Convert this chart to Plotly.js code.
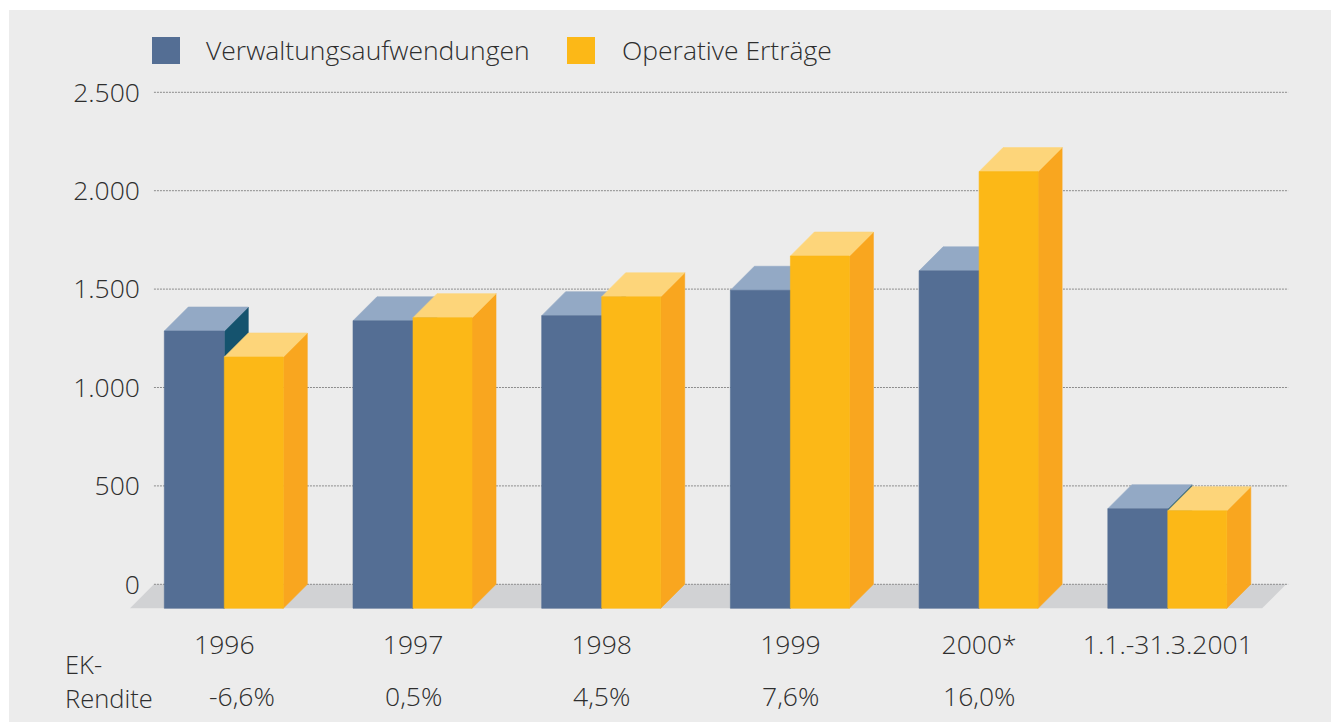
<!DOCTYPE html>
<html>
<head>
<meta charset="utf-8">
<script src="https://cdn.plot.ly/plotly-3.0.1.min.js"></script>
<style>
  html, body { margin: 0; padding: 0; background: #ffffff; }
  #chart { width: 1331px; height: 722px; }
</style>
</head>
<body>
<div id="chart"></div>
<script>
// ---------- data ----------
const categories = ['1996', '1997', '1998', '1999', '2000*', '1.1.-31.3.2001'];
const verwaltungsaufwendungen = [1287, 1339, 1365, 1494, 1593, 384];
const operativeErtraege = [1155, 1355, 1461, 1668, 2097, 374];
const ekRendite = ['-6,6%', '0,5%', '4,5%', '7,6%', '16,0%', ''];
const yTickVals = [0, 500, 1000, 1500, 2000, 2500];
const yTickText = ['0', '500', '1.000', '1.500', '2.000', '2.500'];
const seriesNames = ['Verwaltungsaufwendungen', 'Operative Erträge'];

// ---------- geometry / style ----------
const W = 1331, H = 722;
const CAT_PX = 188.7;          // px per category
const CAT0_PX = 224.3;         // px of first category centre
const PX_PER_UNIT = 0.1968;    // px per value unit
const ZERO_PX = 584.3;         // px of value 0 (back wall)
const DEPTH = 24;              // 3D depth in px
const PLOT_L = 130, PLOT_R = 1292, PLOT_T = 20, PLOT_B = 626;

const dxU = DEPTH / CAT_PX;
const dyV = DEPTH / PX_PER_UNIT;
const wBlue = 60 / CAT_PX, wOrange = 59 / CAT_PX;

const FONT = 'Open Sans, Liberation Sans, Arial, sans-serif';
const FW = 300;
const FS = 26.5;
const TXT = '#2e2e2e';
const colors = {
  blue:   { front: '#546e94', top: '#93a9c5', side: '#15536e' },
  orange: { front: '#fcb817', top: '#fdd57a', side: '#f9a61f' }
};

const xRange = [(PLOT_L - CAT0_PX) / CAT_PX, (PLOT_R - CAT0_PX) / CAT_PX];
const yRange = [(ZERO_PX - PLOT_B) / PX_PER_UNIT, (ZERO_PX - PLOT_T) / PX_PER_UNIT];

function faces(values, leftOff, width) {
  const f = { front: {x: [], y: []}, top: {x: [], y: []}, side: {x: [], y: []} };
  values.forEach((v, i) => {
    const l = i + leftOff, r = l + width, b = -dyV;
    f.front.x.push(l, r, r, l, l, null);
    f.front.y.push(b, b, v, v, b, null);
    f.top.x.push(l, r, r + dxU, l + dxU, l, null);
    f.top.y.push(v, v, v + dyV, v + dyV, v, null);
    f.side.x.push(r, r + dxU, r + dxU, r, r, null);
    f.side.y.push(b, 0, v + dyV, v, b, null);
  });
  return f;
}

function polyTrace(pts, color, name) {
  return {
    type: 'scatter', mode: 'lines', x: pts.x, y: pts.y,
    fill: 'toself', fillcolor: color,
    line: { width: 0.6, color: color },
    hoverinfo: 'skip', showlegend: false, name: name
  };
}

const fb = faces(verwaltungsaufwendungen, -wBlue, wBlue);
const fo = faces(operativeErtraege, 0, wOrange);

const traces = [
  polyTrace(fb.side, colors.blue.side, seriesNames[0]),
  polyTrace(fb.top, colors.blue.top, seriesNames[0]),
  polyTrace(fb.front, colors.blue.front, seriesNames[0]),
  polyTrace(fo.side, colors.orange.side, seriesNames[1]),
  polyTrace(fo.top, colors.orange.top, seriesNames[1]),
  polyTrace(fo.front, colors.orange.front, seriesNames[1])
];

const n = categories.length;
const shapes = [
  // page background
  { type: 'rect', xref: 'paper', yref: 'paper', x0: 9 / W, x1: 1, y0: 0, y1: 1 - 10 / H,
    fillcolor: '#ececec', line: { width: 0 }, layer: 'below' },
  // floor
  { type: 'path', xref: 'x', yref: 'y', layer: 'below',
    path: `M ${-0.5} ${-dyV} L ${n - 0.5} ${-dyV} L ${n - 0.5 + dxU} 0 L ${-0.5 + dxU} 0 Z`,
    fillcolor: '#d1d2d4', line: { width: 0 } }
];
yTickVals.forEach(v => {
  shapes.push({ type: 'line', xref: 'x', yref: 'y', layer: 'below',
    x0: -0.5 + dxU, x1: n - 0.5 + dxU + 2 / CAT_PX, y0: v, y1: v,
    line: { color: '#8c8c8c', width: 1, dash: '2px,1px' } });
});
// legend swatches
const legendItems = [
  { x: 152, tx: 204, color: colors.blue.front, name: seriesNames[0] },
  { x: 567, tx: 620, color: colors.orange.front, name: seriesNames[1] }
];
legendItems.forEach(it => {
  shapes.push({ type: 'rect', xref: 'paper', yref: 'paper',
    x0: it.x / W, x1: (it.x + 28) / W, y0: 1 - 64 / H, y1: 1 - 37 / H,
    fillcolor: it.color, line: { width: 0 } });
});

const tf = (size) => ({ family: FONT, size: size, color: TXT, weight: FW });

const annotations = [];
legendItems.forEach(it => {
  annotations.push({ xref: 'paper', yref: 'paper', x: it.tx / W, y: 1 - 50 / H,
    xanchor: 'left', yanchor: 'middle', text: it.name, showarrow: false,
    font: tf(FS) });
});
annotations.push({ xref: 'paper', yref: 'paper', x: 63 / W, y: 1 - 664 / H,
  xanchor: 'left', yanchor: 'middle', text: 'EK-', showarrow: false,
  font: tf(25.5) });
annotations.push({ xref: 'paper', yref: 'paper', x: 63 / W, y: 1 - 698 / H,
  xanchor: 'left', yanchor: 'middle', text: 'Rendite', showarrow: false,
  font: tf(25.5) });
ekRendite.forEach((t, i) => {
  if (!t) return;
  annotations.push({ xref: 'x', yref: 'paper', x: i, y: 1 - 696 / H,
    xanchor: 'center', yanchor: 'middle', text: t, showarrow: false,
    xshift: i === 0 ? 18 : 0,
    font: tf(FS) });
});

const layout = {
  width: W, height: H,
  margin: { l: 0, r: 0, t: 0, b: 0 },
  paper_bgcolor: '#ffffff', plot_bgcolor: 'rgba(0,0,0,0)',
  showlegend: false,
  font: { family: FONT, color: TXT, weight: FW },
  xaxis: {
    domain: [PLOT_L / W, PLOT_R / W], range: xRange,
    tickvals: categories.map((c, i) => i), ticktext: categories,
    showgrid: false, zeroline: false, showline: false, ticks: '',
    tickfont: tf(FS), fixedrange: true
  },
  yaxis: {
    domain: [1 - PLOT_B / H, 1 - PLOT_T / H], range: yRange,
    anchor: 'free', position: 140 / W,
    tickvals: yTickVals, ticktext: yTickText,
    showgrid: false, zeroline: false, showline: false, ticks: '',
    tickfont: tf(FS), fixedrange: true
  },
  shapes: shapes,
  annotations: annotations
};

Plotly.newPlot('chart', traces, layout, { displayModeBar: false, staticPlot: true });
</script>
</body>
</html>
